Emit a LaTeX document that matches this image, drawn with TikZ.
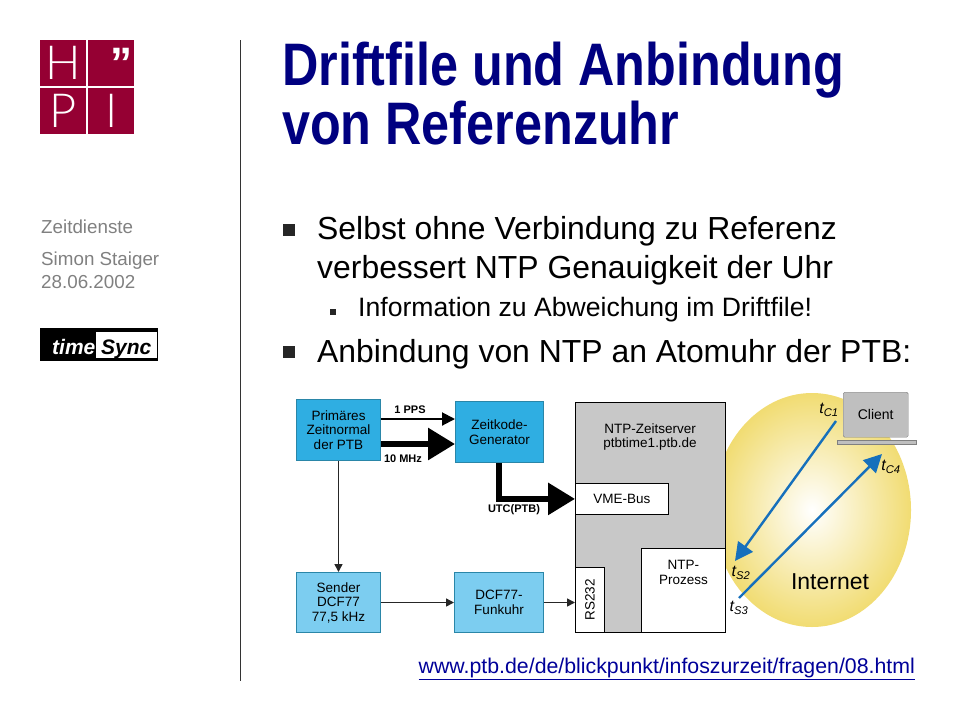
\documentclass[tikz,border=0pt]{standalone}
\usepackage{fontspec}
\usepackage{tikz}
\usetikzlibrary{arrows.meta,shapes.geometric}
\setmainfont{Liberation Sans}
\newfontfamily\titlefont[FakeStretch=0.839]{Liberation Sans}
\newfontfamily\logofont{Lato Light}
\definecolor{hpired}{HTML}{950033}
\definecolor{titleblue}{HTML}{000080}
\definecolor{sidegray}{HTML}{808080}
\definecolor{darkcyan}{HTML}{2FAEE2}
\definecolor{lightcyan}{HTML}{7CCDF0}
\definecolor{cyanedge}{HTML}{2A86A8}
\definecolor{servergray}{HTML}{C8C8C8}
\definecolor{netyellow}{HTML}{F1DC72}
\definecolor{pathblue}{HTML}{1670BC}
\tikzset{
  logobox/.style={fill=hpired,minimum size=46,inner sep=0,anchor=north west,text=white,font=\logofont\fontsize{47}{47}\selectfont},
  sidetext/.style={anchor=base west,inner sep=0,text=sidegray,font=\fontsize{18.8}{18.8}\selectfont},
  titletext/.style={anchor=base west,inner sep=0,text=titleblue,font=\titlefont\bfseries\fontsize{60}{60}\selectfont},
  bodytext/.style={anchor=base west,inner sep=0,font=\fontsize{31.9}{31.9}\selectfont},
  subtext/.style={anchor=base west,inner sep=0,font=\fontsize{26.6}{26.6}\selectfont},
  bigbullet/.style={fill=black!85,minimum size=12,inner sep=0},
  smallbullet/.style={fill=black!85,minimum size=6,inner sep=0},
  blockbox/.style={draw=cyanedge,line width=1,inner sep=0,align=center,anchor=north west,font=\fontsize{13.5}{14.5}\selectfont},
  serverbox/.style={draw=black,fill=white,line width=.8,inner sep=0,align=center,anchor=north west,font=\fontsize{13.5}{14.5}\selectfont},
  linklabel/.style={inner sep=0,font=\bfseries\fontsize{11}{11}\selectfont},
  timelabel/.style={inner sep=0,font=\itshape\fontsize{16}{16}\selectfont},
  thinflow/.style={draw=black!85,line width=1.5,-{Triangle[length=8,width=8]}},
  midflow/.style={draw=black,line width=2,-{Triangle[length=13,width=13]}},
  fatflow/.style={draw=black,line width=6,-{Triangle[length=27,width=31]}},
  pathflow/.style={draw=pathblue,line width=2.4,-{Triangle[length=18,width=18]}}
}
\begin{document}
\begin{tikzpicture}[x=1pt,y=-1pt]
  \useasboundingbox (0,0) rectangle (960,720);
  % logo
  \node[logobox] (logoh) at (40,40) {H};
  \node[logobox] (logoq) at (88,40) {};
  \node[logobox] (logop) at (40,88) {P};
  \node[logobox] (logoi) at (88,88) {I};
  \node[inner sep=0,text=white,font=\bfseries\fontsize{44}{44}\selectfont] (quote) at (121,63) {”};
  % side column
  \node[sidetext] (topic) at (41,233) {Zeitdienste};
  \node[sidetext] (author) at (41,265) {Simon Staiger};
  \node[sidetext] (date) at (41,288) {28.06.2002};
  \node[fill=black,minimum width=118,minimum height=33,inner sep=0,anchor=north west] (tslogo) at (40,328) {};
  \node[fill=white,minimum width=61,minimum height=26,inner sep=0,anchor=north west] (tsbox) at (96,332) {};
  \node[inner sep=0,anchor=base west,text=white,font=\bfseries\itshape\fontsize{21}{21}\selectfont] (tstime) at (52,354) {time};
  \node[inner sep=0,anchor=base west,font=\bfseries\itshape\fontsize{21}{21}\selectfont] (tssync) at (101,354) {Sync};
  \coordinate (ruletop) at (240,40);
  \coordinate (rulebot) at (240,681);
  \draw[line width=.8,black!80] (ruletop) -- (rulebot);
  % title and text
  \node[titletext] (title1) at (282,85) {Driftfile und Anbindung};
  \node[titletext] (title2) at (282,144) {von Referenzuhr};
  \node[bigbullet] (b1) at (289,230) {};
  \node[bodytext] (l1) at (317,239) {Selbst ohne Verbindung zu Referenz};
  \node[bodytext] (l2) at (317,278) {verbessert NTP Genauigkeit der Uhr};
  \node[smallbullet] (b2) at (333,312) {};
  \node[subtext] (l3) at (358,316) {Information zu Abweichung im Driftfile!};
  \node[bigbullet] (b3) at (289,352) {};
  \node[bodytext] (l4) at (317,362) {Anbindung von NTP an Atomuhr der PTB:};
  % internet
  \node[ellipse,minimum width=198,minimum height=234,inner sep=0,shade,inner color=white,outer color=netyellow] (net) at (812,510) {};
  \node[inner sep=0,font=\fontsize{23}{23}\selectfont] (nettext) at (830,582) {Internet};
  % server
  \node[serverbox,fill=servergray,minimum width=150,minimum height=230] (server) at (575,402) {};
  \node[inner sep=0,align=center,font=\fontsize{13.5}{14.5}\selectfont] (servertext) at (650,437) {NTP-Zeitserver\\ptbtime1.ptb.de};
  \node[serverbox,minimum width=93,minimum height=31] (vme) at (575,483) {VME-Bus};
  \node[serverbox,minimum width=29,minimum height=65] (rs) at (575,567) {\rotatebox{90}{RS232}};
  \node[serverbox,minimum width=84,minimum height=84] (proz) at (641,548) {NTP-\\Prozess\\[22pt]};
  % blocks
  \node[blockbox,fill=darkcyan,minimum width=84,minimum height=61] (prim) at (296,399) {Primäres\\Zeitnormal\\der PTB};
  \node[blockbox,fill=darkcyan,minimum width=88,minimum height=61] (gen) at (455,401) {Zeitkode-\\Generator};
  \node[blockbox,fill=lightcyan,minimum width=84,minimum height=60] (send) at (296,572) {Sender\\DCF77\\77,5 kHz};
  \node[blockbox,fill=lightcyan,minimum width=89,minimum height=60] (funk) at (454,572) {DCF77-\\Funkuhr};
  % connectors
  \draw[midflow] (prim.east |- 0,419) -- (gen.west |- 0,419);
  \draw[fatflow] (prim.east |- 0,444) -- (gen.west |- 0,444);
  \draw[fatflow] (gen.south -| 499,0) |- (vme.west);
  \draw[thinflow] (prim.south) -- (send.north);
  \draw[thinflow] (send.east) -- (funk.west);
  \draw[thinflow] (funk.east) -- (funk.east -| rs.west);
  \node[linklabel] (pps) at (410,410) {1 PPS};
  \node[linklabel] (mhz) at (403,459) {10 MHz};
  \node[linklabel] (utc) at (514,510) {UTC(PTB)};
  % client
  \node[draw=black!50,fill=black!25,rounded corners=1.5,minimum width=65,minimum height=45,inner sep=0,anchor=north west,font=\fontsize{14}{14}\selectfont] (client) at (843,392) {Client};
  \node[draw=black!50,fill=black!25,minimum width=79,minimum height=4,inner sep=0,anchor=north west] (desk) at (837,440) {};
  \node[timelabel] (tc1) at (829,410) {t\textsubscript{C1}};
  \node[timelabel] (tc4) at (891,467) {t\textsubscript{C4}};
  \node[timelabel] (ts2) at (741,573) {t\textsubscript{S2}};
  \node[timelabel] (ts3) at (739,608) {t\textsubscript{S3}};
  \coordinate (c1) at (836,421);
  \coordinate (s2) at (735,561);
  \coordinate (s3) at (739,598);
  \coordinate (c4) at (882,454);
  \draw[pathflow] (c1) -- (s2);
  \draw[pathflow] (s3) -- (c4);
  % link
  \node[inner sep=0,anchor=base east,text=blue!60!black,font=\fontsize{21.3}{21.3}\selectfont] (url) at (915,673) {\underline{www.ptb.de/de/blickpunkt/infoszurzeit/fragen/08.html}};
\end{tikzpicture}
\end{document}
